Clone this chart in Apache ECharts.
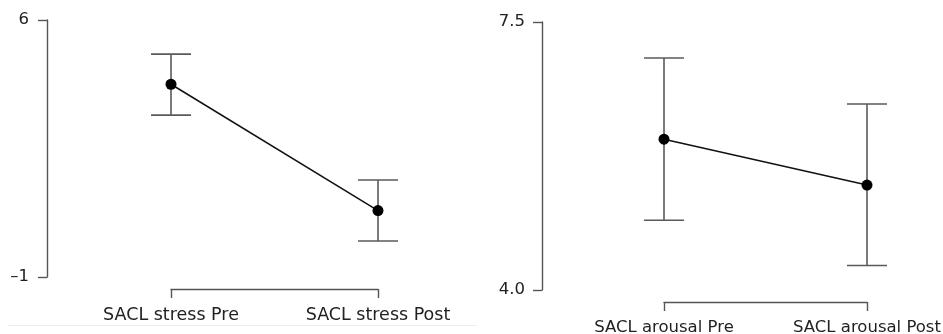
<!DOCTYPE html>
<html><head><meta charset="utf-8">
<script src="https://cdn.jsdelivr.net/npm/echarts@6/dist/echarts.min.js"></script>
<style>html,body{margin:0;padding:0;background:#fff}#c{width:943px;height:334px}</style>
</head><body><div id="c"></div>
<script>
const stressCategories = ['SACL stress Pre', 'SACL stress Post'];
const stressMean = [4.25, 0.81];
const stressLower = [3.41, -0.02];
const stressUpper = [5.07, 1.64];
const stressTicks = [-1, 6];

const arousalCategories = ['SACL arousal Pre', 'SACL arousal Post'];
const arousalMean = [5.97, 5.37];
const arousalLower = [4.91, 4.32];
const arousalUpper = [7.03, 6.43];
const arousalTicks = [4.0, 7.5];

const FONT = 'DejaVu Sans';
const AXIS_COLOR = '#555';
const TEXT_COLOR = '#222';

function errData(lo, hi) { return lo.map((l, i) => [i, l, hi[i]]); }

function renderErr(params, api) {
  const i = api.value(0);
  const lo = api.coord([i, api.value(1)]);
  const hi = api.coord([i, api.value(2)]);
  const w = 20;
  const st = { stroke: '#5a5a5a', lineWidth: 1.6 };
  return { type: 'group', children: [
    { type: 'line', shape: { x1: hi[0], y1: hi[1], x2: lo[0], y2: lo[1] }, style: st },
    { type: 'line', shape: { x1: hi[0] - w, y1: hi[1], x2: hi[0] + w, y2: hi[1] }, style: st },
    { type: 'line', shape: { x1: lo[0] - w, y1: lo[1], x2: lo[0] + w, y2: lo[1] }, style: st }
  ]};
}

function xAxisCfg(cats, gi, off, margin, fs) {
  return {
    type: 'category', gridIndex: gi, data: cats, boundaryGap: false, offset: off,
    axisLine: { show: true, onZero: false, lineStyle: { color: AXIS_COLOR, width: 1.4 } },
    axisTick: { show: true, length: 9, lineStyle: { color: AXIS_COLOR, width: 1.4 } },
    axisLabel: { fontFamily: FONT, fontSize: fs, color: TEXT_COLOR, margin: margin, hideOverlap: false, interval: 0 },
    splitLine: { show: false }
  };
}
function yAxisCfg(gi, min, max, ticks, off, fmt, margin) {
  return {
    type: 'value', gridIndex: gi, min: min, max: max, offset: off,
    axisLine: { show: true, onZero: false, lineStyle: { color: AXIS_COLOR, width: 1.4 } },
    axisTick: { show: true, length: 9, customValues: ticks, lineStyle: { color: AXIS_COLOR, width: 1.4 } },
    axisLabel: { fontFamily: FONT, fontSize: 16.5, color: TEXT_COLOR, margin: margin, customValues: ticks, formatter: fmt },
    splitLine: { show: false }
  };
}

const chart = echarts.init(document.getElementById('c'), null, { renderer: 'canvas' });
chart.setOption({
  animation: false,
  backgroundColor: '#fff',
  graphic: [{ type: 'line', shape: { x1: 8, y1: 325.5, x2: 477, y2: 325.5 }, style: { stroke: '#ececec', lineWidth: 1 } }],
  grid: [
    { left: 171, right: 943 - 378, top: 20, height: 257, outerBoundsMode: 'none', containLabel: false },
    { left: 664, right: 943 - 867, top: 22, height: 268, outerBoundsMode: 'none', containLabel: false }
  ],
  xAxis: [
    xAxisCfg(stressCategories, 0, 12, 17, 17.5),
    xAxisCfg(arousalCategories, 1, 12, 17, 16.5)
  ],
  yAxis: [
    yAxisCfg(0, -1, 6, stressTicks, 124, v => (v < 0 ? '\u2013' + Math.abs(v) : String(v)), 18),
    yAxisCfg(1, 4.0, 7.5, arousalTicks, 122, v => v.toFixed(1), 17)
  ],
  series: [
    { type: 'custom', xAxisIndex: 0, yAxisIndex: 0, renderItem: renderErr, data: errData(stressLower, stressUpper), clip: false, z: 1 },
    { type: 'line', xAxisIndex: 0, yAxisIndex: 0, data: stressMean, symbol: 'circle', symbolSize: 11,
      itemStyle: { color: '#000' }, lineStyle: { color: '#111', width: 1.5 }, z: 3 },
    { type: 'custom', xAxisIndex: 1, yAxisIndex: 1, renderItem: renderErr, data: errData(arousalLower, arousalUpper), clip: false, z: 1 },
    { type: 'line', xAxisIndex: 1, yAxisIndex: 1, data: arousalMean, symbol: 'circle', symbolSize: 11,
      itemStyle: { color: '#000' }, lineStyle: { color: '#111', width: 1.5 }, z: 3 }
  ]
});
</script></body></html>
